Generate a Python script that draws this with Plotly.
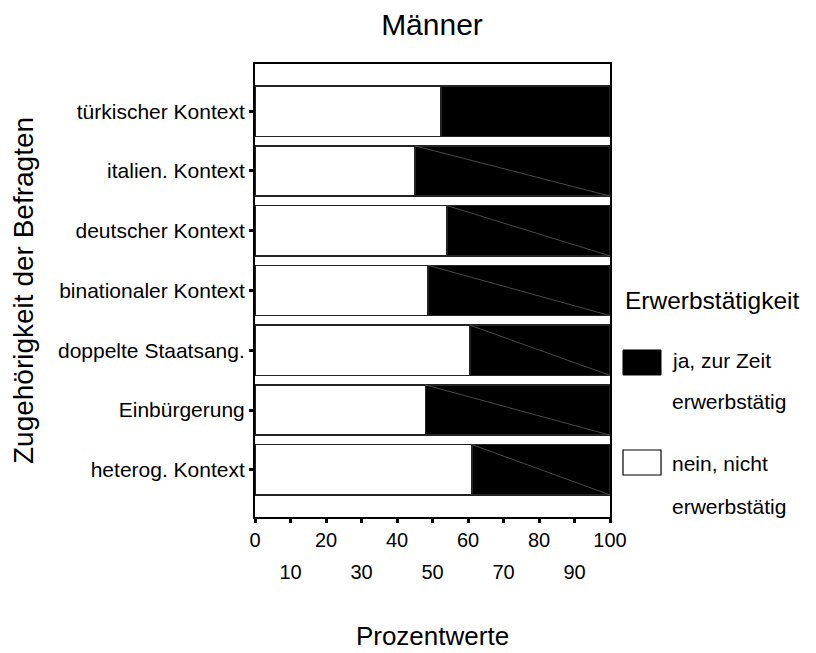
import plotly.graph_objects as go

# ---- data ----
categories = ["türkischer Kontext", "italien. Kontext", "deutscher Kontext",
              "binationaler Kontext", "doppelte Staatsang.", "Einbürgerung",
              "heterog. Kontext"]
nein = [52.4, 45.1, 54.1, 48.8, 60.5, 48.0, 61.2]   # nein, nicht erwerbstätig
ja = [47.6, 54.9, 45.9, 51.2, 39.5, 52.0, 38.8]     # ja, zur Zeit erwerbstätig
ticks_major = [0, 20, 40, 60, 80, 100]
ticks_minor = [10, 30, 50, 70, 90]
name_ja = "ja, zur Zeit<br>erwerbstätig"
name_nein = "nein, nicht<br>erwerbstätig"

FONT = "Liberation Sans, Arial, sans-serif"
rows = list(range(len(categories)))
BAR_W = 0.84

fig = go.Figure()
fig.add_trace(go.Bar(y=rows, x=nein, orientation="h", width=BAR_W,
                     marker=dict(color="white", line=dict(color="#222", width=1.6)),
                     name=name_nein, showlegend=False, hoverinfo="x+name"))
fig.add_trace(go.Bar(y=rows, x=ja, orientation="h", width=BAR_W,
                     marker=dict(color="black", line=dict(color="#222", width=1.6)),
                     name=name_ja, showlegend=False, hoverinfo="x+name"))

# faint diagonal rendering lines inside the black segments (as in the source image)
dx, dy = [], []
for i in rows[1:]:
    dx += [nein[i], nein[i] + ja[i], None]
    dy += [i - BAR_W / 2, i + BAR_W / 2, None]
fig.add_trace(go.Scatter(x=dx, y=dy, mode="lines",
                         line=dict(color="#6a6a6a", width=0.7),
                         showlegend=False, hoverinfo="skip"))

# invisible helper so the second (staggered-label) x axis is drawn
fig.add_trace(go.Scatter(x=[ticks_minor[0], ticks_minor[-1]], y=[rows[0], rows[0]],
                         xaxis="x2", mode="markers", marker=dict(opacity=0),
                         showlegend=False, hoverinfo="skip"))

fig.update_layout(
    width=816, height=653,
    margin=dict(l=247, r=214, t=56, b=144),
    barmode="stack", plot_bgcolor="white", paper_bgcolor="white",
    font=dict(family=FONT, color="black"),
    title=dict(text="Männer", x=0.5196, xanchor="center", y=0.974, yanchor="middle",
               font=dict(size=30, family=FONT)),
    xaxis=dict(range=[0, 100], tickvals=ticks_major + ticks_minor,
               ticktext=[str(t) for t in ticks_major] + ["" for _ in ticks_minor],
               ticks="outside", ticklen=4, tickwidth=3, tickcolor="black",
               showline=True, linecolor="black", linewidth=2, mirror=True,
               showgrid=False, zeroline=False, tickfont=dict(size=20), automargin=False,
               title=dict(text="Prozentwerte", font=dict(size=26), standoff=77)),
    xaxis2=dict(range=[0, 100], overlaying="x", side="bottom", anchor="y",
                tickvals=ticks_minor, ticktext=[str(t) for t in ticks_minor],
                ticks="outside", ticklen=4, tickcolor="rgba(0,0,0,0)",
                showline=False, showgrid=False, zeroline=False, automargin=False,
                tickfont=dict(size=20), ticklabelstandoff=33),
    yaxis=dict(range=[6.79, -0.79], tickvals=rows, ticktext=categories,
               ticks="outside", ticklen=4, tickwidth=3, tickcolor="black",
               showline=True, linecolor="black", linewidth=2, mirror=True,
               showgrid=False, zeroline=False, tickfont=dict(size=21), automargin=False,
               title=dict(text="Zugehörigkeit der Befragten", font=dict(size=28), standoff=28)),
)

# manual legend (large swatches)
fig.add_annotation(text="Erwerbstätigkeit", xref="paper", yref="paper", x=1.036, y=0.479,
                   xanchor="left", yanchor="middle", showarrow=False, font=dict(size=24.5))
fig.add_shape(type="rect", xref="paper", yref="paper", x0=1.0366, x1=1.1437, y0=0.3135, y1=0.3687,
              fillcolor="black", line=dict(color="black", width=1))
fig.add_shape(type="rect", xref="paper", yref="paper", x0=1.0366, x1=1.1437, y0=0.0927, y1=0.1479,
              fillcolor="white", line=dict(color="black", width=1.2))
for txt, yy in [(name_ja.split("<br>")[0], 0.345), (name_ja.split("<br>")[1], 0.256),
                (name_nein.split("<br>")[0], 0.117), (name_nein.split("<br>")[1], 0.024)]:
    fig.add_annotation(text=txt, xref="paper", yref="paper", x=1.169, y=yy,
                       xanchor="left", yanchor="middle", showarrow=False, font=dict(size=21))

fig.write_html("out.html")
